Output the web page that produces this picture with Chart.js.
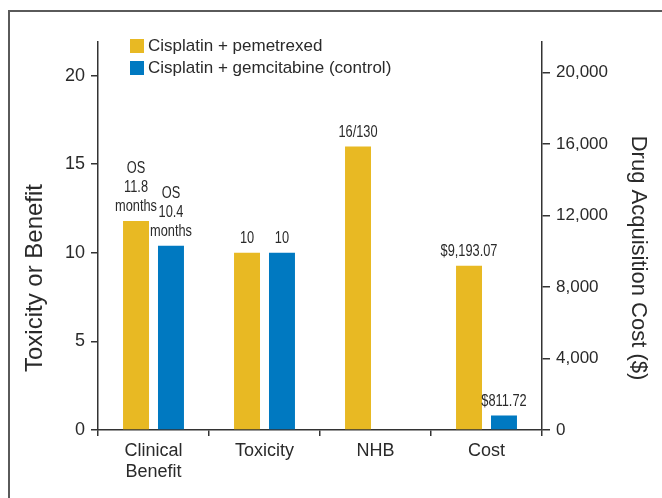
<!DOCTYPE html>
<html>
<head>
<meta charset="utf-8">
<script src="https://cdn.jsdelivr.net/npm/chart.js@4/dist/chart.umd.min.js"></script>
<style>
  html, body { margin: 0; padding: 0; background: #fff; }
  #wrap { position: relative; width: 662px; height: 498px; }
</style>
</head>
<body>
<div id="wrap"><canvas id="c" width="662" height="498"></canvas></div>
<script>
// ---- data ----
const categories = [['Clinical', 'Benefit'], 'Toxicity', 'NHB', 'Cost'];
const seriesNames = ['Cisplatin + pemetrexed', 'Cisplatin + gemcitabine (control)'];
const pemetrexedScore = [11.8, 10, 16, null];
const gemcitabineScore = [10.4, 10, null, null];
const pemetrexedCost = [null, null, null, 9193.07];
const gemcitabineCost = [null, null, null, 811.72];
const pemetrexedLabels = [['OS', '11.8', 'months'], '10', '16/130', '$9,193.07'];
const gemcitabineLabels = [['OS', '10.4', 'months'], '10', null, '$811.72'];
const leftTicks = [0, 5, 10, 15, 20];
const rightTicks = [0, 4000, 8000, 12000, 16000, 20000];
const leftTitle = 'Toxicity or Benefit';
const rightTitle = 'Drug Acquisition Cost ($)';

const YELLOW = '#E8B923';
const BLUE = '#0079C1';
const TEXT = '#2a2a2a';
const AXIS = '#333333';
const BASE_FONT = "'Liberation Sans', Arial, sans-serif";

const framePlugin = {
  id: 'frame',
  beforeDraw(chart) {
    const ctx = chart.ctx;
    ctx.save();
    ctx.strokeStyle = '#5a5a5a';
    ctx.lineWidth = 2;
    ctx.beginPath();
    ctx.moveTo(9, 498);
    ctx.lineTo(9, 11);
    ctx.lineTo(662, 11);
    ctx.stroke();
    ctx.restore();
  }
};

const labelPlugin = {
  id: 'barLabels',
  afterDatasetsDraw(chart) {
    const ctx = chart.ctx;
    chart.data.datasets.forEach((ds, di) => {
      const meta = chart.getDatasetMeta(di);
      meta.data.forEach((bar, i) => {
        if (ds.data[i] == null) return;
        const lab = ds.valueLabels[i];
        if (lab == null) return;
        const lines = Array.isArray(lab) ? lab : [lab];
        const lh = 19;
        lines.slice().reverse().forEach((t, k) => {
          ctx.save();
          ctx.font = '16px ' + BASE_FONT;
          ctx.fillStyle = TEXT;
          ctx.textAlign = 'center';
          ctx.textBaseline = 'middle';
          ctx.translate(bar.x, bar.y - 14 - k * lh);
          ctx.scale(0.8, 1);
          ctx.fillText(t, 0, 0);
          ctx.restore();
        });
      });
    });
  }
};

const legendTitlesPlugin = {
  id: 'legendTitles',
  afterDraw(chart) {
    const ctx = chart.ctx;
    ctx.save();
    const cols = [YELLOW, BLUE];
    ctx.font = '17px ' + BASE_FONT;
    ctx.textAlign = 'left';
    ctx.textBaseline = 'middle';
    seriesNames.forEach((name, i) => {
      const y = 46 + i * 22;
      ctx.fillStyle = cols[i];
      ctx.fillRect(130, y - 7, 14, 14);
      ctx.fillStyle = TEXT;
      ctx.fillText(name, 148, y);
    });
    ctx.textAlign = 'center';
    ctx.font = '24px ' + BASE_FONT;
    ctx.save();
    ctx.translate(35, 278);
    ctx.rotate(-Math.PI / 2);
    ctx.fillText(leftTitle, 0, 0);
    ctx.restore();
    ctx.font = '22px ' + BASE_FONT;
    ctx.save();
    ctx.translate(638, 258);
    ctx.rotate(Math.PI / 2);
    ctx.fillText(rightTitle, 0, 0);
    ctx.restore();
    ctx.restore();
  }
};

new Chart(document.getElementById('c'), {
  type: 'bar',
  data: {
    labels: categories,
    datasets: [
      { label: seriesNames[0], data: pemetrexedScore, valueLabels: pemetrexedLabels, backgroundColor: YELLOW, yAxisID: 'y', stack: 'pem' },
      { label: seriesNames[1], data: gemcitabineScore, valueLabels: gemcitabineLabels, backgroundColor: BLUE, yAxisID: 'y', stack: 'gem' },
      { label: seriesNames[0], data: pemetrexedCost, valueLabels: pemetrexedLabels, backgroundColor: YELLOW, yAxisID: 'y1', stack: 'pem' },
      { label: seriesNames[1], data: gemcitabineCost, valueLabels: gemcitabineLabels, backgroundColor: BLUE, yAxisID: 'y1', stack: 'gem' }
    ]
  },
  options: {
    responsive: false,
    animation: false,
    layout: { padding: { top: 42, left: 0, right: 0, bottom: 0 } },
    datasets: { bar: { categoryPercentage: 0.63, barPercentage: 0.743 } },
    plugins: { legend: { display: false }, tooltip: { enabled: false } },
    scales: {
      x: {
        stacked: true,
        afterFit(s) { s.height = 68; },
        grid: { drawOnChartArea: false, offset: true, tickLength: 6, color: AXIS, lineWidth: 1.5 },
        border: { display: true, color: AXIS, width: 1.5 },
        ticks: { color: TEXT, font: { family: BASE_FONT, size: 18 }, padding: 4, maxRotation: 0 }
      },
      y: {
        position: 'left',
        min: 0,
        max: 21.9,
        afterFit(s) { s.width = 98; },
        afterBuildTicks(s) { s.ticks = leftTicks.map(v => ({ value: v })); },
        grid: { drawOnChartArea: false, tickLength: 7, color: AXIS, lineWidth: 1.5 },
        border: { display: true, color: AXIS, width: 1.5 },
        ticks: { color: TEXT, font: { family: BASE_FONT, size: 18 }, padding: 6 }
      },
      y1: {
        position: 'right',
        min: 0,
        max: 21700,
        afterFit(s) { s.width = 120; },
        afterBuildTicks(s) { s.ticks = rightTicks.map(v => ({ value: v })); },
        grid: { drawOnChartArea: false, tickLength: 8, color: AXIS, lineWidth: 1.5 },
        border: { display: true, color: AXIS, width: 1.5 },
        ticks: {
          color: TEXT,
          font: { family: BASE_FONT, size: 17 }, padding: 6,
          callback: (v) => Number(v).toLocaleString('en-US')
        }
      }
    }
  },
  plugins: [framePlugin, labelPlugin, legendTitlesPlugin]
});
</script>
</body>
</html>
